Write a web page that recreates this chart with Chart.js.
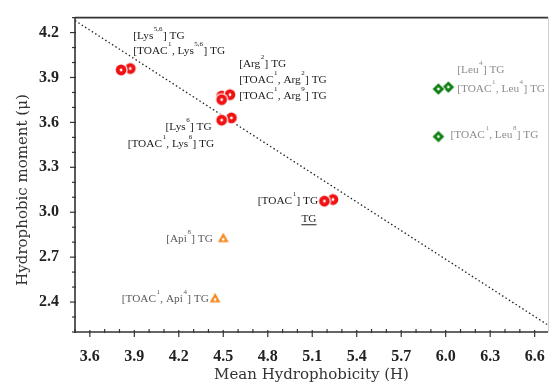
<!DOCTYPE html>
<html>
<head>
<meta charset="utf-8">
<script src="https://cdn.jsdelivr.net/npm/chart.js@4.4.1/dist/chart.umd.min.js"></script>
<style>
  html, body { margin: 0; padding: 0; background: #fff; }
  #wrap { width: 555px; height: 382px; position: relative; }
</style>
</head>
<body>
<div id="wrap"><canvas id="c" width="555" height="382"></canvas></div>
<script>
// ---------- data ----------
const xTicks = [3.6, 3.9, 4.2, 4.5, 4.8, 5.1, 5.4, 5.7, 6.0, 6.3, 6.6];
const yTicks = [2.4, 2.7, 3.0, 3.3, 3.6, 3.9, 4.2];

// red circles (Lys / Arg / TOAC TG analogues) – the rear member of each pair
const redBackX = [3.873, 4.489, 4.545, 4.555, 5.240];
const redBackY = [3.960, 3.776, 3.785, 3.630, 3.085];
// red circles – the front member of each pair
const redFrontX = [3.811, 4.489, 4.489, 5.182];
const redFrontY = [3.950, 3.752, 3.615, 3.074];

// green diamonds (Leu analogues)
const greenBackX = [6.018];
const greenBackY = [3.836];
const greenFrontX = [5.951, 5.951];
const greenFrontY = [3.823, 3.505];

// orange triangles (Api analogues)
const orangeX = [4.500, 4.445];
const orangeY = [2.825, 2.423];

// dotted separating line
const trendX = [3.5, 6.69];
const trendY = [4.28, 2.246];

// point annotations: text (^{..} = superscript), anchor x, anchor y, colour group
const labelTexts = [
  "[Lys^{5,6}] TG", "[TOAC^{1}, Lys^{5,6}] TG",
  "[Arg^{2}] TG", "[TOAC^{1}, Arg^{2}] TG", "[TOAC^{1}, Arg^{9}] TG",
  "[Lys^{6}] TG", "[TOAC^{1}, Lys^{6}] TG",
  "[TOAC^{1}] TG", "TG",
  "[Leu^{4}] TG", "[TOAC^{1}, Leu^{4}] TG", "[TOAC^{1}, Leu^{8}] TG",
  "[Api^{8}] TG", "[TOAC^{1}, Api^{4}] TG"
];
const labelX = [3.893, 3.893, 4.607, 4.607, 4.607, 4.111, 3.855, 4.733, 5.027, 6.078, 6.078, 6.033, 4.115, 3.815];
const labelY = [4.155, 4.056, 3.973, 3.866, 3.754, 3.551, 3.438, 3.058, 2.933, 3.929, 3.804, 3.497, 2.801, 2.399];
const labelGroup = ['k','k','k','k','k','k','k','k','u','g','g','g','a','a'];

// ---------- styles ----------
const RED = '#f01212', GREEN = '#0d7f12', ORANGE = '#f5891f';
const groupColor = { k: '#1b1b1b', u: '#1b1b1b', g: '#8c8c8c', a: '#5a5a5a' };

function marker(shape, color) {
  const s = 18, c = document.createElement('canvas');
  c.width = s; c.height = s;
  const g = c.getContext('2d'), m = s / 2;
  function path(r) {
    g.beginPath();
    if (shape === 'circle') g.arc(m, m, r, 0, Math.PI * 2);
    else if (shape === 'diamond') { g.moveTo(m, m - r); g.lineTo(m + r, m); g.lineTo(m, m + r); g.lineTo(m - r, m); g.closePath(); }
    else { const h = r * 1.75; g.moveTo(m, m - h * 0.6); g.lineTo(m + r, m + h * 0.4); g.lineTo(m - r, m + h * 0.4); g.closePath(); }
  }
  const base = shape === 'triangle' ? 5.4 : (shape === 'diamond' ? 5.8 : 5.4);
  g.fillStyle = '#fff'; path(base + 1.2); g.fill();
  g.fillStyle = color; path(base); g.fill();
  g.fillStyle = '#fff'; g.beginPath(); g.arc(m, shape === 'triangle' ? m + 1 : m, 1.4, 0, Math.PI * 2); g.fill();
  return c;
}
const redM = marker('circle', RED), greenM = marker('diamond', GREEN), orangeM = marker('triangle', ORANGE);

const pts = (xs, ys) => xs.map((x, i) => ({ x: x, y: ys[i] }));

// ---------- plugin: frame, tick marks, titles, annotations ----------
function drawRich(ctx, str, x, y, color, underline) {
  const parts = str.split(/(\^\{[^}]*\})/).filter(p => p.length);
  let cx = x;
  ctx.fillStyle = color; ctx.textBaseline = 'alphabetic'; ctx.textAlign = 'left';
  parts.forEach(p => {
    if (p.startsWith('^{')) {
      const t = p.slice(2, -1);
      ctx.font = '7px "Liberation Serif"';
      ctx.fillText(t, cx + 0.5, y - 8);
      cx += ctx.measureText(t).width + 0.8;
    } else {
      ctx.font = '11.3px "Liberation Serif"';
      ctx.fillText(p, cx, y);
      cx += ctx.measureText(p).width;
    }
  });
  if (underline) {
    ctx.strokeStyle = color; ctx.lineWidth = 1;
    ctx.beginPath(); ctx.moveTo(x, y + 2.5); ctx.lineTo(cx, y + 2.5); ctx.stroke();
  }
}

const decor = {
  id: 'decor',
  afterDraw(chart) {
    const ctx = chart.ctx, a = chart.chartArea, xs = chart.scales.x, ys = chart.scales.y;
    ctx.save();
    // frame
    ctx.strokeStyle = '#cfcfcf'; ctx.lineWidth = 1;
    ctx.beginPath(); ctx.moveTo(a.right + 0.5, a.top); ctx.lineTo(a.right + 0.5, a.bottom); ctx.stroke();
    ctx.strokeStyle = '#333'; ctx.lineWidth = 1.6;
    ctx.beginPath(); ctx.moveTo(a.left, a.top); ctx.lineTo(a.right, a.top); ctx.stroke();
    ctx.beginPath(); ctx.moveTo(a.left, a.top); ctx.lineTo(a.left, a.bottom); ctx.lineTo(a.right, a.bottom); ctx.stroke();
    // tick marks: minor every 0.1, major at labelled values
    ctx.lineWidth = 1.2; ctx.strokeStyle = '#333';
    for (let k = Math.round(xs.min * 10); k <= Math.floor(xs.max * 10 + 1e-6); k++) {
      const v = k / 10, px = xs.getPixelForValue(v);
      const major = xTicks.some(t => Math.abs(t - v) < 1e-6);
      ctx.beginPath();
      if (major) { ctx.moveTo(px, a.bottom - 2); ctx.lineTo(px, a.bottom + 5); }
      else { ctx.moveTo(px, a.bottom - 3); ctx.lineTo(px, a.bottom + 1); }
      ctx.stroke();
    }
    for (let k = Math.ceil(ys.min * 10 - 1e-6); k <= Math.floor(ys.max * 10 + 1e-6); k++) {
      const v = k / 10, py = ys.getPixelForValue(v);
      const major = yTicks.some(t => Math.abs(t - v) < 1e-6);
      ctx.beginPath();
      ctx.moveTo(a.left - (major ? 5 : 3), py); ctx.lineTo(a.left + 1, py);
      ctx.stroke();
    }
    // axis titles
    ctx.fillStyle = '#333'; ctx.font = '15px "DejaVu Serif"';
    ctx.textAlign = 'center'; ctx.textBaseline = 'alphabetic';
    ctx.fillText('Mean Hydrophobicity (H)', (a.left + a.right) / 2, 379);
    ctx.save();
    ctx.translate(27, 190); ctx.rotate(-Math.PI / 2);
    ctx.fillText('Hydrophobic moment (\u03BC)', 0, 0);
    ctx.restore();
    // annotations
    labelTexts.forEach((t, i) => {
      drawRich(ctx, t, xs.getPixelForValue(labelX[i]), ys.getPixelForValue(labelY[i]),
        groupColor[labelGroup[i]], labelGroup[i] === 'u');
    });
    ctx.restore();
  }
};

const tickFont = { family: '"Liberation Serif"', size: 16, weight: 'bold' };

new Chart(document.getElementById('c'), {
  type: 'scatter',
  data: {
    datasets: [
      { data: pts(redFrontX, redFrontY), pointStyle: redM, order: 1 },
      { data: pts(greenFrontX, greenFrontY), pointStyle: greenM, order: 1 },
      { data: pts(orangeX, orangeY), pointStyle: orangeM, order: 1 },
      { data: pts(redBackX, redBackY), pointStyle: redM, order: 3 },
      { data: pts(greenBackX, greenBackY), pointStyle: greenM, order: 3 },
      { type: 'line', data: pts(trendX, trendY), borderColor: '#222', borderWidth: 1.3,
        borderDash: [1.5, 2.5], pointRadius: 0, fill: false, order: 9 }
    ]
  },
  options: {
    responsive: false,
    animation: false,
    devicePixelRatio: 1,
    layout: { padding: { left: 0, right: 2, top: 13, bottom: 0 } },
    plugins: { legend: { display: false }, tooltip: { enabled: false } },
    elements: { point: { radius: 6, hoverRadius: 6 } },
    scales: {
      x: {
        type: 'linear', min: 3.5, max: 6.69,
        grid: { display: false }, border: { display: false },
        afterBuildTicks: s => { s.ticks = xTicks.map(v => ({ value: v })); },
        afterFit: s => { s.height = 50; },
        ticks: { color: '#222', font: tickFont, padding: 7, maxRotation: 0, autoSkip: false,
          callback: v => Number(v).toFixed(1) }
      },
      y: {
        type: 'linear', min: 2.2, max: 4.3,
        grid: { display: false }, border: { display: false },
        afterBuildTicks: s => { s.ticks = yTicks.map(v => ({ value: v })); },
        afterFit: s => { s.width = 75; },
        ticks: { color: '#222', font: tickFont, padding: 8, autoSkip: false,
          callback: v => Number(v).toFixed(1) }
      }
    }
  },
  plugins: [decor]
});
</script>
</body>
</html>
